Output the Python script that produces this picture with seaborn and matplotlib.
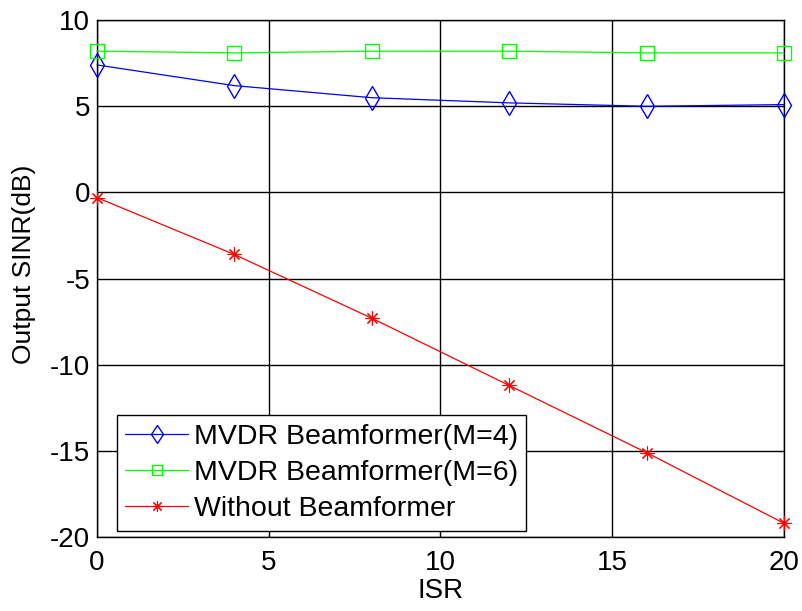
import matplotlib
matplotlib.use("Agg")
import matplotlib.pyplot as plt
import seaborn as sns
import pandas as pd

isr = [0, 4, 8, 12, 16, 20]
mvdr_m4 = [7.4, 6.2, 5.5, 5.2, 5.0, 5.1]
mvdr_m6 = [8.2, 8.1, 8.2, 8.2, 8.1, 8.1]
without_bf = [-0.3, -3.6, -7.3, -11.2, -15.1, -19.2]
labels = ["MVDR Beamformer(M=4)", "MVDR Beamformer(M=6)", "Without Beamformer"]
colors = ["#0000ff", "#00ff00", "#ff0000"]
markers = ["d", "s", (8, 2, 0)]
msizes = [12, 9.5, 10]
mews = [1.0, 1.0, 0.8]
xticks = [0, 5, 10, 15, 20]
yticks = [-20, -15, -10, -5, 0, 5, 10]

sns.set_theme(style="white")
plt.rcParams['font.family'] = ['Liberation Sans', 'DejaVu Sans']
plt.rcParams['axes.unicode_minus'] = False
plt.rcParams['text.color'] = 'black'
plt.rcParams['axes.labelcolor'] = 'black'

df = pd.concat([
    pd.DataFrame({"ISR": isr, "SINR": vals, "series": lab})
    for vals, lab in zip([mvdr_m4, mvdr_m6, without_bf], labels)
])

fig = plt.figure(figsize=(8.03, 6.11), dpi=100)
ax = fig.add_axes([0.1208, 0.121, 0.8555, 0.846])

for lab, col, mk, ms, mew in zip(labels, colors, markers, msizes, mews):
    sub = df[df["series"] == lab]
    sns.lineplot(data=sub, x="ISR", y="SINR", ax=ax, color=col, marker=mk,
                 markersize=ms, markerfacecolor="none", markeredgecolor=col,
                 markeredgewidth=mew, linewidth=0.9, label=lab, clip_on=False,
                 zorder=3)

ax.set_xlim(0, 20)
ax.set_ylim(-20, 10)
ax.set_xticks(xticks)
ax.set_yticks(yticks)
ax.grid(True, color="black", linewidth=1.0, linestyle="-")
ax.set_axisbelow(True)
for s in ax.spines.values():
    s.set_color("black")
    s.set_linewidth(1.0)
ax.tick_params(axis="both", direction="in", length=5, colors="black", labelsize=20)
ax.tick_params(axis="x", pad=9)
ax.tick_params(axis="y", pad=5)
ax.set_xlabel("ISR", fontsize=20, labelpad=2)
ax.set_ylabel("Output SINR(dB)", fontsize=19)
ax.yaxis.set_label_coords(-0.089, 0.528)

leg = ax.legend(loc="lower left", bbox_to_anchor=(0.029, 0.012), fontsize=20.5,
                frameon=True, fancybox=False, edgecolor="black", framealpha=1,
                handlelength=2.2, borderpad=0.3, labelspacing=0.36, handletextpad=0.2,
                borderaxespad=0, markerscale=0.8)
leg.get_frame().set_linewidth(1.0)

fig.savefig("out.png", dpi=100, facecolor="white")
